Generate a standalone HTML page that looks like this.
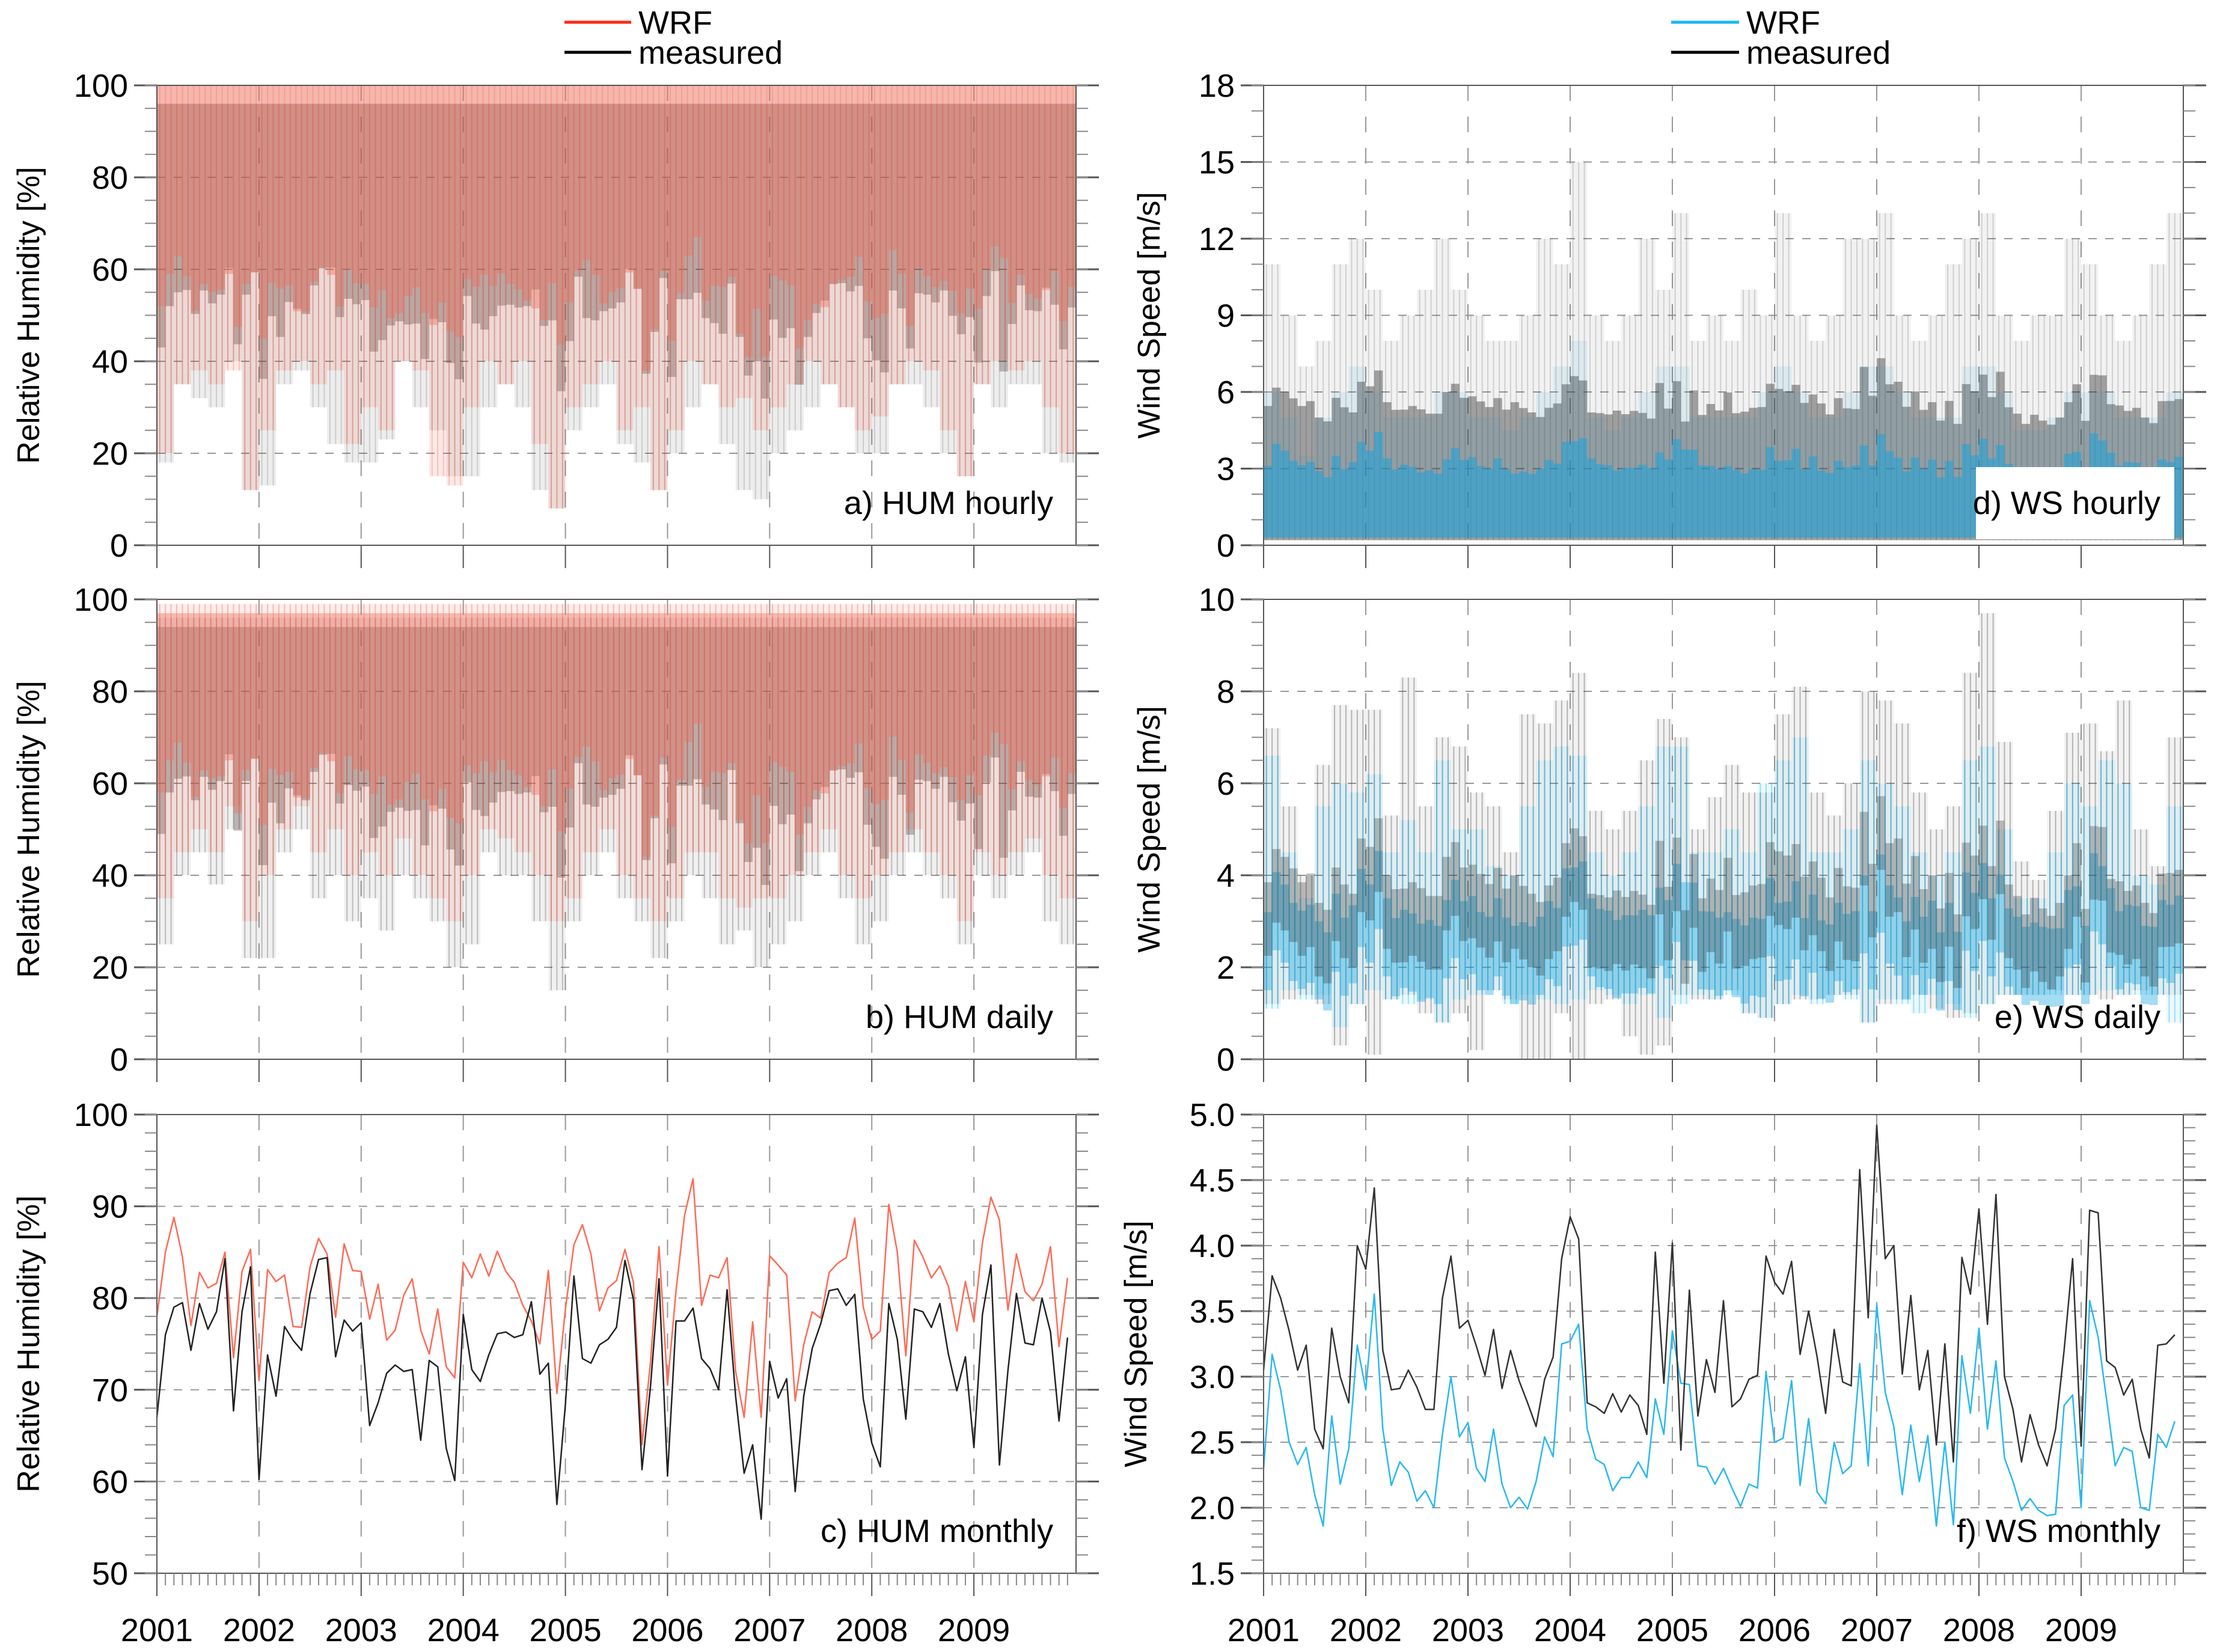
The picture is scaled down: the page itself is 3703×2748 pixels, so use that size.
<!DOCTYPE html>
<html><head><meta charset="utf-8"><style>
html,body{margin:0;padding:0;background:#fff;}
svg{display:block;}
.tk{font-family:"Liberation Sans Narrow","Liberation Sans",sans-serif;font-size:54px;fill:#000;}
.tt{font-family:"Liberation Sans",sans-serif;font-size:52px;fill:#000;}
</style></head><body>
<svg id="fig" width="3703" height="2748" viewBox="0 0 3703 2748" xmlns="http://www.w3.org/2000/svg"></svg>
<script>
// ---- data ----
const YEAR_LABELS = ["2001","2002","2003","2004","2005","2006","2007","2008","2009"];
const humMonMeas = [67,76,79,79.5,74.3,79.4,76.6,78.5,84.3,67.7,78.5,83.4,
60.2,73.8,69.3,76.9,75.4,74.3,80.5,84.2,84.4,73.6,77.6,76.4,
77.3,66.1,68.6,71.8,72.7,72,72.2,64.5,73.2,72.5,63.6,60.1,
78.2,72.2,70.9,73.8,76.1,76.3,75.7,76,79.6,71.7,72.9,57.5,
68.4,82.4,73.4,72.9,74.9,75.5,76.8,84.1,79.8,61.3,70.4,82.1,
60.6,77.5,77.5,78.9,73.4,72.3,70,80.9,69.3,60.9,64,55.9,
73.1,69.1,71.2,58.9,69.3,74.5,77.2,80.8,81,79.2,80.4,69,
64.2,61.6,79.4,75.5,66.8,78.8,78.5,76.8,79.4,73.9,69.9,73.6,
63.7,78.2,83.6,61.8,72.1,80.5,75.1,74.9,80,76.3,66.6,75.7];
const humMonWrf = [78,85,88.8,84.5,77,82.8,81.1,81.6,85,73.5,82.9,85.3,
71,83.1,81.8,82.5,76.9,76.8,83.4,86.5,84.8,77.9,85.9,83,
82.9,77.7,81.5,75.4,76.5,80.3,82.1,76.5,73.9,78.8,72.5,71.3,
83.9,82.2,84.8,82.4,85.1,82.9,81.7,79.2,77.5,75,83,69.6,
78.8,85.8,88,84.8,78.6,81.1,81.9,85.3,81.7,64,73,85.6,
70.5,80.8,89,93,79.2,82.5,82.2,84.4,72,67,77.4,67,
84.6,83.6,82.5,68.8,74.9,78.5,77.8,82.8,83.8,84.4,88.7,79,
75.5,76.4,90.2,85,73.7,86.3,84.5,82.2,83.5,81.3,76.4,81.8,
77.4,86,91,88.5,78.7,84.8,80.7,79.7,81.5,85.6,74.7,82.2];
const wsMonMeas = [3.05,3.77,3.6,3.35,3.05,3.24,2.6,2.45,3.37,3.0,2.8,4.0,
3.82,4.44,3.2,2.9,2.91,3.05,2.92,2.75,2.75,3.6,3.92,3.37,
3.43,3.23,3.01,3.36,2.91,3.2,2.97,2.8,2.62,2.98,3.15,3.9,
4.22,4.05,2.8,2.77,2.72,2.87,2.73,2.86,2.78,2.56,3.95,2.95,
4.02,2.44,3.66,2.7,3.13,2.88,3.58,2.77,2.83,2.98,3.01,3.92,
3.72,3.63,3.88,3.17,3.5,3.15,2.72,3.36,2.96,2.93,4.58,3.45,
4.92,3.9,4.0,3.02,3.62,2.9,3.2,2.48,3.25,2.35,3.91,3.63,
4.28,3.4,4.39,3.0,2.75,2.35,2.71,2.48,2.32,2.6,3.2,3.9,
2.47,4.27,4.25,3.12,3.07,2.86,2.98,2.6,2.38,3.24,3.25,3.32];
const wsMonWrf = [2.3,3.17,2.9,2.5,2.33,2.46,2.1,1.86,2.7,2.18,2.45,3.24,
2.9,3.63,2.6,2.17,2.35,2.27,2.05,2.13,2.0,2.56,3.0,2.54,
2.65,2.3,2.2,2.6,2.18,2.0,2.08,1.99,2.2,2.54,2.39,3.25,
3.27,3.4,2.6,2.37,2.33,2.13,2.23,2.23,2.35,2.23,2.83,2.56,
3.35,2.95,2.94,2.32,2.31,2.18,2.3,2.15,2.01,2.18,2.15,3.04,
2.5,2.53,2.97,2.17,2.68,2.12,2.03,2.5,2.26,2.32,3.1,2.32,
3.55,2.88,2.62,2.1,2.63,2.2,2.55,1.86,2.5,1.87,3.16,2.72,
3.37,2.6,3.12,2.38,2.2,1.98,2.07,1.98,1.94,1.95,2.78,2.86,
2.0,3.58,3.3,2.82,2.32,2.46,2.43,2.0,1.98,2.56,2.46,2.66];
const aMeasLo = [18,35,32,30,40,12, 13,35,38,30,22,18, 18,23,40,30,25,15, 15,30,35,30,12,8, 25,30,35,22,18,12, 20,30,35,22,12,10, 20,25,30,35,30,20, 20,35,35,30,20,15, 35,30,35,35,20,18];
const aWrfLo  = [20,35,38,35,38,12, 25,38,40,35,38,22, 30,25,40,38,15,13, 30,40,35,40,22,8, 30,35,40,25,30,12, 25,40,35,30,32,25, 30,35,40,35,30,25, 28,35,40,38,25,15, 35,40,38,40,30,20];
const aMeasTop = 96;
const aWrfTop = 100;
const bMeasLo = [25,40,45,38,50,22, 22,45,50,35,40,30, 35,28,40,35,30,20, 25,45,40,40,30,15, 30,40,45,35,30,22, 30,40,35,25,28,20, 25,30,40,45,35,25, 30,40,45,40,35,25, 40,35,40,45,30,25];
const bWrfLo  = [35,45,50,45,55,30, 40,50,55,45,50,40, 45,40,48,40,35,30, 40,50,48,45,40,30, 35,45,50,40,35,30, 35,45,45,35,33,35, 35,40,45,50,40,35, 40,45,50,45,40,30, 45,40,45,48,40,35];
const bMeasTop = 96;
const bWrfTop = 99;
const dMeasHi = [11,9,7,8,11,12, 10,8,9,10,12,10, 9,8,8,9,12,11, 15,9,8,9,12,10, 13,8,9,8,10,9, 13,9,8,9,12,12, 13,9,8,9,11,12, 13,9,8,9,9,12, 11,9,8,9,11,13];
const dWrfHi  = [6,5,3.5,5,6,7, 6,5,5,5,6,6, 5,5,4.5,5,6,7, 8,5,4.5,5,6,7, 7,5,5,5,5,6, 7,6,5,5,6,7, 7,6,5,5,5,7, 7,6,4.5,4.5,5,6, 6,6,5,5,5,6];
const eMeasHi = [7.2,5.5,4,6.4,7.7,7.6, 7.6,5.3,8.3,5.5,7.0,6.8, 5.8,5.5,4.5,7.5,7.3,7.8, 8.4,5.4,5,5.4,6.5,7.4, 7,5,5.7,6.4,5.8,5.8, 7.5,8.1,5.8,5.3,6,8, 7.8,7.3,5.8,5.0,5.5,8.4, 9.7,6.9,4.3,3.9,5.4,7.1, 7.3,6.7,7.8,5,4.2,7.0];
const eMeasLo = [1.2,1.3,1.4,1.2,0.3,1.2, 0.1,1.3,1.4,1.0,0.8,1.0, 0.2,1.5,1.3,0,0,1.0, 0,1.2,1.3,0.5,0.1,0.3, 1.4,1.3,1.3,1.5,1.0,0.9, 1.2,1.3,1.3,1.4,1.4,0.8, 1.2,1.3,1.4,1.1,0.9,1.0, 1.2,1.4,1.4,1.4,1.5,1.4, 1.4,1.3,1.4,1.5,1.4,1.4];
const eWrfHi = [6.6,4.5,3.5,5.5,6.0,5.8, 6.2,4.5,5.2,4.5,6.5,5.0, 5.0,4.2,4.0,5.5,6.5,6.8, 6.6,4.5,4.0,4.5,5.5,6.8, 6.8,4.5,4.5,5.0,4.5,6.0, 6.5,7.0,4.5,4.5,5.0,6.5, 6.0,5.5,4.5,4.0,4.5,6.5, 6.8,5.0,3.5,3.5,4.5,6.0, 5.5,6.5,6.0,4.0,3.8,5.5];
const eWrfLo = [1.1,1.5,1.3,1.4,0.7,1.2, 1.5,1.3,1.2,1.3,0.8,1.3, 1.4,1.5,1.2,1.4,1.3,1.2, 1.3,1.5,1.4,1.2,1.4,0.9, 1.2,1.4,1.3,1.4,1.0,0.9, 1.2,1.4,1.2,1.4,1.3,0.8, 1.3,1.2,1.0,1.4,1.2,0.9, 1.2,1.4,1.4,1.4,1.4,1.4, 1.4,1.5,1.4,1.4,1.4,0.8];

const humTicks = ["0","20","40","60","80","100"];
const humMonTicks = ["50","60","70","80","90","100"];
const wsHourTicks = ["0","3","6","9","12","15","18"];
const wsDayTicks = ["0","2","4","6","8","10"];
const wsMonTicks = ["1.5","2.0","2.5","3.0","3.5","4.0","4.5","5.0"];

// ---- drawing ----
const NS = "http://www.w3.org/2000/svg";
const svg = document.getElementById('fig');
function mk(tag, attrs, parent){
  const e = document.createElementNS(NS, tag);
  for (const k in attrs) e.setAttribute(k, attrs[k]);
  (parent||svg).appendChild(e);
  return e;
}
const COLS = [{x0:261,x1:1790},{x0:2102,x1:3632}];
const ROWS = [{y0:142,y1:907},{y0:997,y1:1762},{y0:1854,y1:2617}];
const T0 = 2001, T1 = 2010;

function makePanel(col,row,ymin,ymax,ticks,minorStep,name,title,label,boxLabel,monthMinor){
  const c = COLS[col], r = ROWS[row];
  const g = mk('g',{});
  
  
  const X = t => c.x0 + (t-T0)/(T1-T0)*(c.x1-c.x0);
  const Y = v => r.y1 - (v-ymin)/(ymax-ymin)*(r.y1-r.y0);
  const P = {g,X,Y,c,r};
  const grid = mk('g',{},g);
  
  
  for (let i=1;i<YEAR_LABELS.length;i++){
    const x = X(+YEAR_LABELS[i]);
    mk('line',{x1:x,x2:x,y1:r.y0,y2:r.y1,stroke:'#999','stroke-width':2,'stroke-dasharray':'26 26'},grid);
  }
  ticks.forEach((t,i)=>{
    if (i===0||i===ticks.length-1) return;
    const y=Y(+t);
    mk('line',{x1:c.x0,x2:c.x1,y1:y,y2:y,stroke:'#999','stroke-width':2,'stroke-dasharray':'14 14'},grid);
  });
  P.layer = mk('g',{},g);
  
  
  P.finish = function(){
    const ax = mk('g',{},g);
    
    
    mk('rect',{x:c.x0,y:r.y0,width:c.x1-c.x0,height:r.y1-r.y0,fill:'none',stroke:'#555','stroke-width':2},ax);
    const L=38;
    ticks.forEach(t=>{
      const y=Y(+t);
      mk('line',{x1:c.x0-L,x2:c.x0,y1:y,y2:y,stroke:'#555','stroke-width':3},ax);
      mk('line',{x1:c.x1,x2:c.x1+L,y1:y,y2:y,stroke:'#555','stroke-width':3},ax);
      const tx = mk('text',{x:c.x0-48,y:y+19,'text-anchor':'end',class:'tk'},ax);
      tx.textContent=t;
      
      
    });
    for (let v=ymin; v<=ymax+1e-9; v+=minorStep){
      const y=Y(v);
      mk('line',{x1:c.x0-20,x2:c.x0,y1:y,y2:y,stroke:'#888','stroke-width':2},ax);
      mk('line',{x1:c.x1,x2:c.x1+20,y1:y,y2:y,stroke:'#888','stroke-width':2},ax);
    }
    for (let i=0;i<YEAR_LABELS.length;i++){
      const x=X(+YEAR_LABELS[i]);
      mk('line',{x1:x,x2:x,y1:r.y1,y2:r.y1+L,stroke:'#555','stroke-width':2},ax);
      if (row===2){
        const tx = mk('text',{x:x,y:2730,'text-anchor':'middle',class:'tk'},ax);
        tx.textContent=YEAR_LABELS[i];
        
        
      }
    }
    if (monthMinor){
      for (let m=1;m<108;m++){
        if (m%12===0) continue;
        const x=X(T0+m/12);
        mk('line',{x1:x,x2:x,y1:r.y1,y2:r.y1+20,stroke:'#888','stroke-width':2},ax);
      }
    }
    const tcx = col===0 ? 48 : (row===2?1890:1912);
    const yt = mk('text',{x:tcx,y:(r.y0+r.y1)/2,'text-anchor':'middle','dominant-baseline':'central',class:'tt',transform:`rotate(-90 ${tcx} ${(r.y0+r.y1)/2})`},ax);
    yt.textContent=title;
    
    
    if (boxLabel){
      const bx = mk('rect',{x:c.x1-345,y:r.y1-130,width:330,height:120,fill:'#fff'},ax);
      
      
    }
    const pl = mk('text',{x:c.x1-38,y:r.y1-52,'text-anchor':'end',class:'tk'},ax);
    pl.textContent=label;
    
    
  };
  return P;
}

function poly(P, n, xOf, loOf, hiOf, fill, op, nm){
  const top=[], bot=[];
  for (let k=0;k<n;k++){
    const xa=xOf(k), xb=xOf(k+1);
    const h=hiOf(k), l=loOf(k);
    top.push(`${xa},${P.Y(h)}`,`${xb},${P.Y(h)}`);
    bot.push(`${xa},${P.Y(l)}`,`${xb},${P.Y(l)}`);
  }
  bot.reverse();
  const p = mk('polygon',{points:top.concat(bot).join(' '),fill:fill,'fill-opacity':op},P.layer);
  
  
}
function band(P, lo, hi, fill, op, nm){
  const n = (Array.isArray(lo)?lo:hi).length;
  poly(P,n,k=>P.X(T0+k*(T1-T0)/n),
       k=>Array.isArray(lo)?lo[k]:lo, k=>Array.isArray(hi)?hi[k]:hi, fill, op, nm);
}
function spikes(P, lo, hi, color, op, nm){
  const n = (Array.isArray(lo)?lo:hi).length;
  const g = mk('g',{},P.layer);
  
  
  for (let k=0;k<n;k++){
    const l = Array.isArray(lo)?lo[k]:lo, h = Array.isArray(hi)?hi[k]:hi;
    for (let j=0;j<3;j++){
      const x=P.X(T0+(k+(j+0.5)/3)*(T1-T0)/n);
      mk('line',{x1:x,x2:x,y1:P.Y(l),y2:P.Y(h),stroke:color,'stroke-width':2,'stroke-opacity':op},g);
    }
  }
}
function monthly(P, vals, lo, hi, fill, op, nm){
  poly(P,vals.length,k=>P.X(T0+k/12),k=>lo(vals[k]),k=>hi(vals[k]),fill,op,nm);
}
function line(P, vals, color, w, nm){
  const pts = vals.map((v,i)=>`${P.X(T0+i/12)},${P.Y(v)}`).join(' ');
  const p = mk('polyline',{points:pts,fill:'none',stroke:color,'stroke-width':w,'stroke-linejoin':'round'},P.layer);
  
  
}

// a) HUM hourly
let P = makePanel(0,0,0,100,humTicks,5,'panel-hum-hourly','Relative Humidity [%]','a) HUM hourly',false,false);
band(P,aMeasLo,aMeasTop,'#000',0.07,'measured-hourly-range');
spikes(P,aMeasLo,aMeasTop,'#555',0.22,'measured-hourly-spikes');
monthly(P,humMonMeas,v=>v-24,v=>aMeasTop,'#3a2a28',0.3,'measured-hourly-core');
band(P,aWrfLo,aWrfTop,'#f04a35',0.12,'wrf-hourly-range');
spikes(P,aWrfLo,aWrfTop,'#f04a35',0.25,'wrf-hourly-spikes');
monthly(P,humMonWrf,v=>v-26,v=>aWrfTop,'#ee7060',0.42,'wrf-hourly-core');
P.finish();

// b) HUM daily
P = makePanel(0,1,0,100,humTicks,5,'panel-hum-daily','Relative Humidity [%]','b) HUM daily',false,false);
band(P,bMeasLo,bMeasTop,'#000',0.06,'measured-daily-range');
spikes(P,bMeasLo,bMeasTop,'#333',0.28,'measured-daily-spikes');
monthly(P,humMonMeas,v=>v-18,v=>bMeasTop-2,'#3a2a28',0.3,'measured-daily-core');
band(P,bWrfLo,bWrfTop,'#f04a35',0.1,'wrf-daily-range');
spikes(P,bWrfLo,bWrfTop,'#f04a35',0.3,'wrf-daily-spikes');
monthly(P,humMonWrf,v=>v-20,v=>bWrfTop-2,'#ee7060',0.42,'wrf-daily-core');
P.finish();

// c) HUM monthly
P = makePanel(0,2,50,100,humMonTicks,2,'panel-hum-monthly','Relative Humidity [%]','c) HUM monthly',false,true);
line(P,humMonWrf,'#ff6a55',2.5,'wrf-monthly-line');
line(P,humMonMeas,'#222',2.5,'measured-monthly-line');
P.finish();

// d) WS hourly
P = makePanel(1,0,0,18,wsHourTicks,1,'panel-ws-hourly','Wind Speed [m/s]','d) WS hourly',true,false);
band(P,0.2,dMeasHi,'#000',0.05,'measured-hourly-range');
spikes(P,0.2,dMeasHi,'#444',0.2,'measured-hourly-spikes');
monthly(P,wsMonMeas,v=>0.2,v=>v+2.4,'#222',0.4,'measured-hourly-core');
band(P,0.3,dWrfHi,'#1aa0d8',0.1,'wrf-hourly-range');
monthly(P,wsMonWrf,v=>0.3,v=>v+0.8,'#1aa4dc',0.55,'wrf-hourly-core');
P.finish();

// e) WS daily
P = makePanel(1,1,0,10,wsDayTicks,0.5,'panel-ws-daily','Wind Speed [m/s]','e) WS daily',false,false);
band(P,eMeasLo,eMeasHi,'#000',0.05,'measured-daily-range');
spikes(P,eMeasLo,eMeasHi,'#222',0.3,'measured-daily-spikes');
band(P,eWrfLo,eWrfHi,'#00b4ee',0.08,'wrf-daily-range');
spikes(P,eWrfLo,eWrfHi,'#00aee8',0.35,'wrf-daily-spikes');
monthly(P,wsMonWrf,v=>v-0.8,v=>v+0.9,'#1aa8e0',0.4,'wrf-daily-core');
monthly(P,wsMonMeas,v=>v-0.8,v=>v+0.8,'#222',0.28,'measured-daily-core');
P.finish();

// f) WS monthly
P = makePanel(1,2,1.5,5.0,wsMonTicks,0.1,'panel-ws-monthly','Wind Speed [m/s]','f) WS monthly',false,true);
line(P,wsMonWrf,'#29b8f0',2.5,'wrf-monthly-line');
line(P,wsMonMeas,'#333',2.5,'measured-monthly-line');
P.finish();

function legend(x1,x2,color,name){
  const g = mk('g',{});
  
  
  mk('line',{x1:x1,x2:x2,y1:37,y2:37,stroke:color,'stroke-width':5},g);
  mk('line',{x1:x1,x2:x2,y1:87,y2:87,stroke:'#000','stroke-width':5},g);
  const t1 = mk('text',{x:x2+12,y:56,class:'tk'},g); t1.textContent='WRF';
  
  
  const t2 = mk('text',{x:x2+12,y:106,class:'tk'},g); t2.textContent='measured';
  
  
}
legend(939,1050,'#ff2a1a','legend-hum');
legend(2780,2893,'#1ab8f0','legend-ws');
</script>
</body></html>
